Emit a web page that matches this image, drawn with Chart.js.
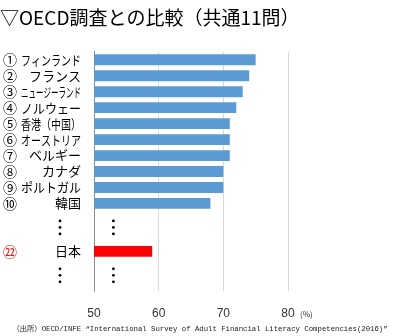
<!DOCTYPE html>
<html>
<head>
<meta charset="utf-8">
<script src="https://cdn.jsdelivr.net/npm/chart.js@4"></script>
<style>
  html, body { margin: 0; padding: 0; background: #fff; }
  canvas { display: block; }
</style>
</head>
<body>
<canvas id="bar-chartOecd" width="400" height="336"></canvas>
<script>
// 国名・順位・正答率（％）
var countries = ['フィンランド', 'フランス', 'ニュージーランド', 'ノルウェー', '香港（中国）',
                 'オーストリア', 'ベルギー', 'カナダ', 'ポルトガル', '韓国', '', '', '日本', '', ''];
var ranks = ['①', '②', '③', '④', '⑤', '⑥', '⑦', '⑧', '⑨', '⑩', '', '', '㉒', '', ''];
var scores = [75, 74, 73, 72, 71, 71, 71, 70, 70, 68, null, null, 59, null, null];
var xTicks = [50, 60, 70, 80];
var highlight = '日本';
var gapRows = [10.5, 13.5];   // 「⋮」を置く位置（カテゴリ番号）

var jpFont = "'Noto Sans CJK JP', 'Noto Sans', sans-serif";

function dots(ctx, x, y) {
    for (var k = -1; k <= 1; k++) {
        ctx.beginPath();
        ctx.arc(x, y + k * 6.5, 1.4, 0, Math.PI * 2);
        ctx.fill();
    }
}

var labelPlugin = {
    id: 'labelPlugin',
    afterDraw: function (chart) {
        var ctx = chart.ctx;
        var yS = chart.scales.y, xS = chart.scales.x;
        ctx.save();
        ctx.textBaseline = 'middle';
        countries.forEach(function (name, i) {
            var y = yS.getPixelForValue(i);
            if (ranks[i]) {
                ctx.font = '14px ' + jpFont;
                ctx.textAlign = 'center';
                ctx.fillStyle = name === highlight ? '#ff0000' : '#000';
                ctx.fillText(ranks[i], 10, y);
            }
            if (name) {
                ctx.font = '13px ' + jpFont;
                ctx.textAlign = 'right';
                ctx.fillStyle = '#000';
                ctx.fillText(name, 81, y, 60);
            }
        });
        ctx.fillStyle = '#000';
        gapRows.forEach(function (r) {
            var y = yS.getPixelForValue(r);
            dots(ctx, 60, y);
            dots(ctx, xS.getPixelForValue(53), y);
        });
        ctx.font = "8px 'Noto Sans CJK JP', sans-serif";
        ctx.textAlign = 'left';
        ctx.fillStyle = '#333';
        ctx.fillText('(%)', xS.getPixelForValue(80) + 12, chart.chartArea.bottom + 23);
        ctx.restore();
    }
};

function oecdChart() {
    var ctx = document.getElementById('bar-chartOecd').getContext('2d');

    var chart = new Chart(ctx, {
        type: 'bar',
        data: {
            labels: countries,
            datasets: [
                {
                    label: '正答率',
                    data: scores,
                    backgroundColor: function (c) {
                        return countries[c.dataIndex] === highlight ? '#ff0000' : '#5b9bd5';
                    },
                    categoryPercentage: 1,
                    barPercentage: 0.68
                }
            ]
        },
        options: {
            responsive: false,
            animation: false,
            devicePixelRatio: 1,
            indexAxis: 'y',
            layout: { padding: 0 },
            plugins: {
                legend: { display: false },
                tooltip: { enabled: false },
                title: {
                    display: true,
                    text: '▽OECD調査との比較（共通11問）',
                    align: 'start',
                    color: '#000',
                    font: { family: jpFont, size: 19, weight: 'normal' },
                    padding: { top: 6, bottom: 23 }
                },
                subtitle: {
                    display: true,
                    position: 'bottom',
                    text: '（出所）OECD/INFE “International Survey of Adult Financial Literacy Competencies(2016)”',
                    color: '#1a1a1a',
                    font: { family: "'Liberation Mono', 'Noto Sans CJK JP', monospace", size: 7.3 },
                    padding: { top: 0, bottom: 3 }
                }
            },
            scales: {
                x: {
                    min: xTicks[0],
                    max: xTicks[xTicks.length - 1],
                    afterBuildTicks: function (s) {
                        s.ticks = xTicks.map(function (v) { return { value: v }; });
                    },
                    ticks: {
                        color: '#333',
                        font: { family: "'Liberation Sans', sans-serif", size: 12 },
                        padding: 15
                    },
                    grid: { color: '#d9d9d9', drawTicks: false },
                    border: { display: false },
                    afterFit: function (s) { s.height = 33; }
                },
                y: {
                    ticks: { display: false },
                    grid: { display: false, drawTicks: false },
                    border: { color: '#8c8c8c' },
                    afterFit: function (s) { s.width = 94; }
                },
                yRight: {
                    type: 'linear',
                    position: 'right',
                    display: true,
                    ticks: { display: false },
                    grid: { display: false, drawTicks: false },
                    border: { display: false },
                    afterFit: function (s) { s.width = 112; }
                }
            }
        },
        plugins: [labelPlugin]
    });
}

oecdChart();
</script>
</body>
</html>
